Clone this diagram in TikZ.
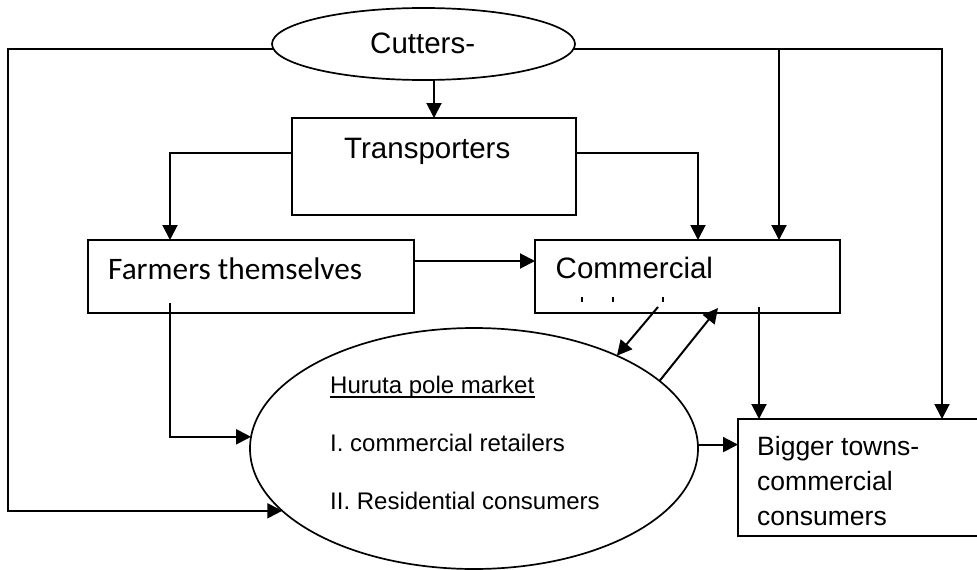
\documentclass[tikz,border=0pt]{standalone}
\usepackage{fontspec}
\setmainfont{Liberation Sans}
\newfontfamily\calibri{Carlito}
\usetikzlibrary{shapes.geometric,arrows.meta}
\tikzset{
  box/.style={draw, line width=2pt, inner sep=0pt, outer sep=0pt},
  oval/.style={draw, ellipse, line width=1.7pt, inner sep=0pt, outer sep=0pt},
  conn/.style={line width=2pt, -{Triangle[length=15pt,width=15pt]}},
  lbl/.style={anchor=base west, inner sep=0pt, font=\fontsize{29.5}{35}\selectfont},
  sublbl/.style={anchor=base west, inner sep=0pt, font=\fontsize{24}{29}\selectfont},
}
\begin{document}
\begin{tikzpicture}[x=1pt, y=-1pt]
  \useasboundingbox (0,0) rectangle (977,570);
  \node[oval, minimum width=303pt, minimum height=72pt] (cutters) at (423.5,44) {};
  \node[box, minimum width=284pt, minimum height=97pt] (trans) at (434,166.5) {};
  \node[box, minimum width=326pt, minimum height=73pt] (farmers) at (251,276.5) {};
  \node[box, minimum width=305pt, minimum height=73pt] (comm) at (687.5,276.5) {};
  \node[oval, minimum width=448pt, minimum height=241pt] (hur) at (474,448.5) {};
  \node[box, minimum width=252pt, minimum height=117pt] (bigger) at (864,477.5) {};

  \node[lbl] (cuttersTxt) at (370,53) {Cutters-};
  \node[lbl] (transTxt) at (344,158) {Transporters};
  \node[lbl, font=\calibri\fontsize{31.3}{36}\selectfont] (farmersTxt) at (108,279) {Farmers themselves};
  \node[lbl] (commTxt) at (555.5,278) {Commercial};
  \foreach \x in {582,613,663} \fill (\x-1,297) rectangle (\x+1,302);
  \node[sublbl] (hurTitle) at (330,393) {Huruta pole market};
  \draw[line width=1.3pt] ([yshift=-4pt]hurTitle.base west) -- ([yshift=-4pt]hurTitle.base east);
  \node[sublbl] (hurOne) at (330,451) {I. commercial retailers};
  \node[sublbl] (hurTwo) at (330,509) {II. Residential consumers};
  \node[lbl, font=\fontsize{26.5}{35}\selectfont, align=left] (biggerTxt) at (757,525) {Bigger towns-\\commercial\\consumers};

  \coordinate (leftrail) at (8,0);
  \coordinate (rightrail) at (942,0);
  \coordinate (branch) at (779,0);
  \coordinate (transL) at (170,0);
  \coordinate (transR) at (698,0);
  \coordinate (commDown) at (759,0);

  \draw[conn] (trans.north |- cutters.south) -- (trans.north);
  \draw[conn] (cutters.182) -- (cutters.182 -| leftrail) |- (hur.198.5);
  \draw[conn] (cutters.-2) -| (rightrail |- bigger.north);
  \draw[conn] (cutters.-2 -| branch) -- (branch |- comm.north);
  \draw[conn] ([yshift=13.5pt]trans.west) -| (transL |- farmers.north);
  \draw[conn] ([yshift=13.5pt]trans.east) -| (transR |- comm.north);
  \draw[conn] ([yshift=15.5pt]farmers.east) -- ([yshift=15.5pt]comm.west);
  \draw[conn] ([yshift=10pt]farmers.south -| transL) |- (hur.177.5);
  \draw[conn] ([xshift=-29.5pt,yshift=6pt]comm.south) -- (hur.33.2);
  \draw[conn] (hur.20.5) -- ([xshift=30.5pt,yshift=5pt]comm.south);
  \draw[conn] ([yshift=6pt]comm.south -| commDown) -- (commDown |- bigger.north);
  \draw[conn] (hur.1.5) -- (hur.1.5 -| bigger.west);
\end{tikzpicture}
\end{document}
